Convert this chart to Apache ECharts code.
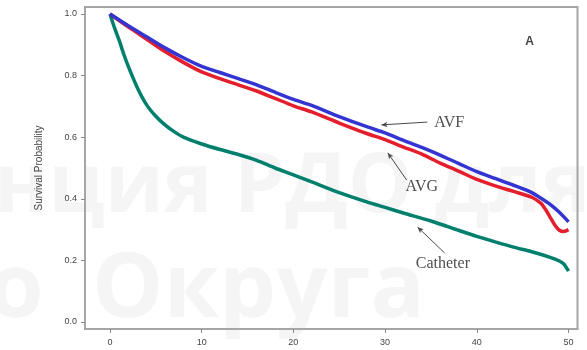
<!DOCTYPE html>
<html>
<head>
<meta charset="utf-8">
<script src="https://cdn.jsdelivr.net/npm/echarts@6/dist/echarts.min.js"></script>
<style>
  html, body { margin: 0; padding: 0; background: #ffffff; }
  #chart { width: 587px; height: 350px; }
</style>
</head>
<body>
<div id="chart"></div>
<script>
// Kaplan-Meier survival estimates by vascular access type (months on x)
const avfMonths = [0, 2, 4, 6, 8, 10, 12, 14, 16, 18, 20, 22, 25, 28, 30, 32, 34, 36, 38, 40, 42, 44, 46, 47, 48, 49, 50];
const avfSurvival = [1.0, 0.962, 0.926, 0.89, 0.858, 0.83, 0.81, 0.79, 0.77, 0.746, 0.723, 0.703, 0.667, 0.634, 0.614, 0.59, 0.567, 0.542, 0.515, 0.488, 0.466, 0.444, 0.42, 0.402, 0.382, 0.356, 0.325];

const avgMonths = [0, 2, 4, 6, 8, 10, 12, 14, 16, 18, 20, 22, 25, 28, 30, 32, 34, 36, 38, 40, 42, 44, 46, 47, 47.5, 48, 48.5, 49, 49.5, 50];
const avgSurvival = [1.0, 0.958, 0.918, 0.878, 0.843, 0.812, 0.79, 0.77, 0.75, 0.726, 0.702, 0.682, 0.646, 0.612, 0.592, 0.568, 0.545, 0.516, 0.49, 0.463, 0.442, 0.424, 0.405, 0.385, 0.365, 0.34, 0.315, 0.298, 0.294, 0.30];

const catheterMonths = [0, 0.5, 1, 1.5, 2, 3, 4, 5, 6, 7, 8, 10, 12, 14, 16, 18, 20, 22, 25, 28, 30, 32, 35, 38, 40, 42, 44, 46, 48, 49, 49.5, 50];
const catheterSurvival = [1.0, 0.955, 0.915, 0.87, 0.83, 0.76, 0.705, 0.668, 0.64, 0.618, 0.60, 0.578, 0.56, 0.544, 0.525, 0.50, 0.478, 0.455, 0.42, 0.39, 0.372, 0.354, 0.328, 0.298, 0.278, 0.26, 0.243, 0.228, 0.21, 0.198, 0.188, 0.165];

const xTicks = [0, 10, 20, 30, 40, 50];
const yTicks = [0, 0.2, 0.4, 0.6, 0.8, 1.0];
const yAxisTitle = 'Survival Probability';
const panelLetter = 'A';

// Curve labels: text anchor and arrow (tail -> tip), in data coordinates
const curveLabels = [
  { name: 'AVF', text: [37.0, 0.646], tail: [34.6, 0.649], tip: [29.6, 0.640] },
  { name: 'AVG', text: [34.0, 0.438], tail: [32.35, 0.461], tip: [30.3, 0.549] },
  { name: 'Catheter', text: [36.3, 0.190], tail: [36.5, 0.224], tip: [33.55, 0.308] }
];
const panelLetterAt = [45.75, 0.909];

const zip = (xs, ys) => xs.map((x, i) => [x, ys[i]]);
const axisGray = '#a6a6a6';
const sans = '"Liberation Sans", Arial, sans-serif';

const chart = echarts.init(document.getElementById('chart'), null, { renderer: 'canvas' });

function curve(name, xs, ys, color) {
  return {
    name: name,
    type: 'line',
    data: zip(xs, ys),
    showSymbol: false,
    smooth: 0.25,
    z: 5,
    lineStyle: { color: color, width: 3.5 },
    itemStyle: { color: color }
  };
}

const arrowSeries = {
  type: 'line',
  data: [],
  silent: true,
  z: 6,
  markLine: {
    silent: true,
    symbol: ['none', 'arrow'],
    symbolSize: [4, 6],
    label: { show: false },
    lineStyle: { color: '#4a4a4a', width: 1, type: 'solid' },
    emphasis: { disabled: true },
    data: curveLabels.map(c => [{ coord: c.tail }, { coord: c.tip }])
  }
};

const textSeries = {
  type: 'scatter',
  silent: true,
  symbolSize: 0,
  z: 7,
  data: curveLabels.map(c => ({ value: c.text, name: c.name })),
  label: {
    show: true,
    position: 'inside',
    formatter: p => p.name,
    fontFamily: '"Liberation Serif", "DejaVu Serif", serif',
    fontSize: 16,
    color: '#222222'
  }
};

const letterSeries = {
  type: 'scatter',
  silent: true,
  symbolSize: 0,
  z: 7,
  data: [{ value: panelLetterAt, name: panelLetter }],
  label: {
    show: true,
    position: 'inside',
    formatter: p => p.name,
    fontFamily: sans,
    fontWeight: 'bold',
    fontSize: 12,
    color: '#111111'
  }
};

// faint background watermark text
const watermarkStyle = {
  fill: 'rgba(205, 205, 205, 0.2)',
  fontFamily: '"Open Sans", "DejaVu Sans", sans-serif',
  fontWeight: 'bold',
  fontSize: 82
};

chart.setOption({
  animation: false,
  backgroundColor: '#ffffff',
  graphic: [
    { type: 'text', z: -10, silent: true, left: -6, top: 148, style: Object.assign({ text: 'нция РДО для' }, watermarkStyle) },
    { type: 'text', z: -10, silent: true, left: -12, top: 246, style: Object.assign({ text: 'о', fontSize: 90 }, watermarkStyle, { fontSize: 90 }) },
    { type: 'text', z: -10, silent: true, left: 92, top: 246, style: Object.assign({}, watermarkStyle, { text: 'Округа', fontSize: 90 }) }
  ],
  grid: {
    left: 85, right: 9.5, top: 7, bottom: 21,
    show: true, borderColor: axisGray, borderWidth: 2, backgroundColor: 'transparent'
  },
  xAxis: {
    type: 'value',
    min: -2.72, max: 50.98,
    axisLine: { show: true, onZero: false, lineStyle: { color: axisGray, width: 2 } },
    axisTick: { show: true, customValues: xTicks, length: 4, lineStyle: { color: '#888888', width: 1 } },
    axisLabel: {
      show: true, customValues: xTicks, margin: 9,
      color: '#444444', fontSize: 9, fontFamily: sans,
      formatter: v => String(Math.round(v))
    },
    splitLine: { show: false }
  },
  yAxis: {
    type: 'value',
    min: -0.0227, max: 1.0227,
    name: yAxisTitle,
    nameLocation: 'middle',
    nameRotate: 90,
    nameGap: 41,
    nameTextStyle: { color: '#444444', fontSize: 10, fontFamily: sans },
    axisLine: { show: true, onZero: false, lineStyle: { color: axisGray, width: 2 } },
    axisTick: { show: true, customValues: yTicks, length: 4, lineStyle: { color: '#888888', width: 1 } },
    axisLabel: {
      show: true, customValues: yTicks, margin: 8,
      color: '#444444', fontSize: 9, fontFamily: sans,
      formatter: v => v.toFixed(1)
    },
    splitLine: { show: false }
  },
  series: [
    curve('Catheter', catheterMonths, catheterSurvival, '#00806c'),
    curve('AVG', avgMonths, avgSurvival, '#e41e2c'),
    curve('AVF', avfMonths, avfSurvival, '#3434d2'),
    arrowSeries,
    textSeries,
    letterSeries
  ]
});
</script>
</body>
</html>
